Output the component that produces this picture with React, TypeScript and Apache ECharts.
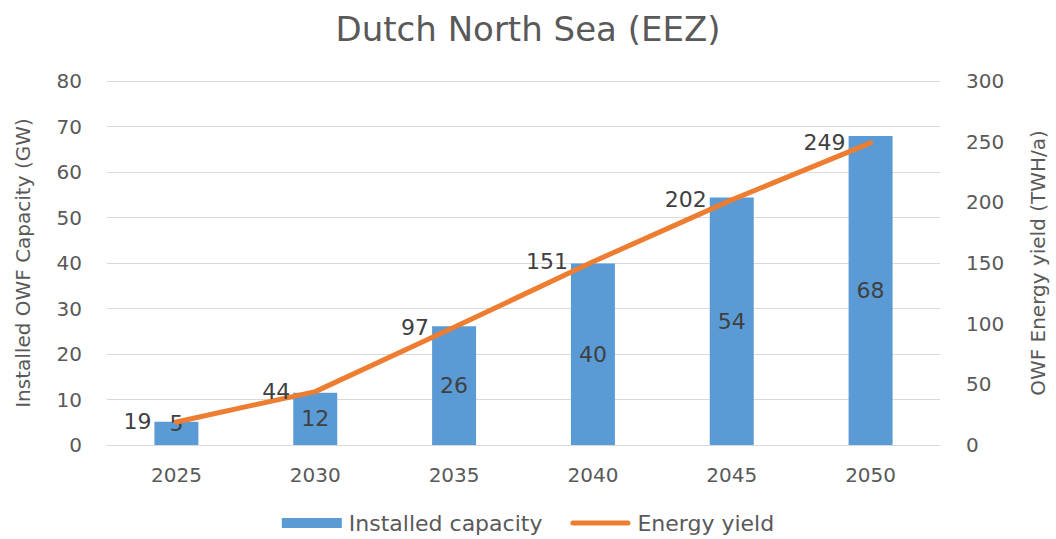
import React, { useEffect, useRef } from "react";
import * as echarts from "echarts";

const years = ["2025", "2030", "2035", "2040", "2045", "2050"];
const capacity = [5.1, 11.5, 26.1, 39.9, 54.4, 67.9];
const capacityLabels = [5, 12, 26, 40, 54, 68];
const energy = [19, 44, 97, 151, 202, 249];

const FONT = "DejaVu Sans";
const TXT = "#595959";
const BLUE = "#5B9BD5";
const ORANGE = "#ED7D31";

export default function App() {
  const ref = useRef<HTMLDivElement>(null);
  useEffect(() => {
    const chart = echarts.init(ref.current!, null, { renderer: "svg" });
    chart.setOption({
      animation: false,
      textStyle: { fontFamily: FONT, color: TXT },
      title: {
        text: "Dutch North Sea (EEZ)",
        left: "center",
        top: 7,
        textStyle: { fontFamily: FONT, fontSize: 34, fontWeight: "normal", color: TXT },
      },
      legend: {
        bottom: 0,
        left: "center",
        itemGap: 28,
        itemWidth: 60,
        itemHeight: 10,
        textStyle: { fontFamily: FONT, fontSize: 22, color: TXT, padding: [0, 0, 0, 2] },
        data: [
          { name: "Installed capacity", icon: "rect", itemStyle: { color: BLUE } },
          {
            name: "Energy yield",
            icon: "path://M2.5,0 L57.5,0 A2.5,2.5 0 0 1 57.5,5 L2.5,5 A2.5,2.5 0 0 1 2.5,0 Z",
            itemStyle: { color: ORANGE, opacity: 1 },
          },
        ],
      },
      grid: { left: 107, right: 115, top: 81, bottom: 94, containLabel: false },
      xAxis: {
        type: "category",
        data: years,
        axisTick: { show: false },
        axisLine: { lineStyle: { color: "#D9D9D9" } },
        axisLabel: { fontFamily: FONT, fontSize: 20, color: TXT, margin: 20 },
      },
      yAxis: [
        {
          type: "value",
          min: 0,
          max: 80,
          interval: 10,
          name: "Installed OWF Capacity (GW)",
          nameLocation: "middle",
          nameGap: 74,
          nameTextStyle: { fontFamily: FONT, fontSize: 20, color: TXT },
          axisLabel: { fontFamily: FONT, fontSize: 20, color: TXT, margin: 25 },
          splitLine: { lineStyle: { color: "#D9D9D9", width: 1 } },
          axisLine: { show: false },
          axisTick: { show: false },
        },
        {
          type: "value",
          min: 0,
          max: 300,
          interval: 50,
          name: "OWF Energy yield (TWH/a)",
          nameLocation: "middle",
          nameGap: 88,
          nameTextStyle: { fontFamily: FONT, fontSize: 20, color: TXT },
          axisLabel: { fontFamily: FONT, fontSize: 20, color: TXT, margin: 26 },
          splitLine: { show: false },
          axisLine: { show: false },
          axisTick: { show: false },
        },
      ],
      series: [
        {
          name: "Installed capacity",
          type: "bar",
          yAxisIndex: 0,
          data: capacity.map((v, i) =>
            i === 0 ? { value: v, label: { offset: [0, -10] } } : v
          ),
          barWidth: 44,
          itemStyle: { color: BLUE },
          label: {
            show: true,
            position: "inside",
            fontFamily: FONT,
            fontSize: 22,
            color: "#404040",
            formatter: (p: any) => String(capacityLabels[p.dataIndex]),
          },
        },
        {
          name: "Energy yield",
          type: "line",
          yAxisIndex: 1,
          data: energy,
          symbol: "circle",
          symbolSize: 2,
          showSymbol: true,
          lineStyle: { color: ORANGE, width: 5, cap: "round" },
          itemStyle: { color: ORANGE },
          label: {
            show: true,
            position: "left",
            distance: 24,
            fontFamily: FONT,
            fontSize: 22,
            color: "#404040",
          },
          labelLayout: { hideOverlap: false },
          z: 3,
        },
      ],
    });
    return () => chart.dispose();
  }, []);
  return <div ref={ref} style={{ width: 1056, height: 539, position: "absolute", left: 0, top: 0, background: "#fff" }} />;
}
